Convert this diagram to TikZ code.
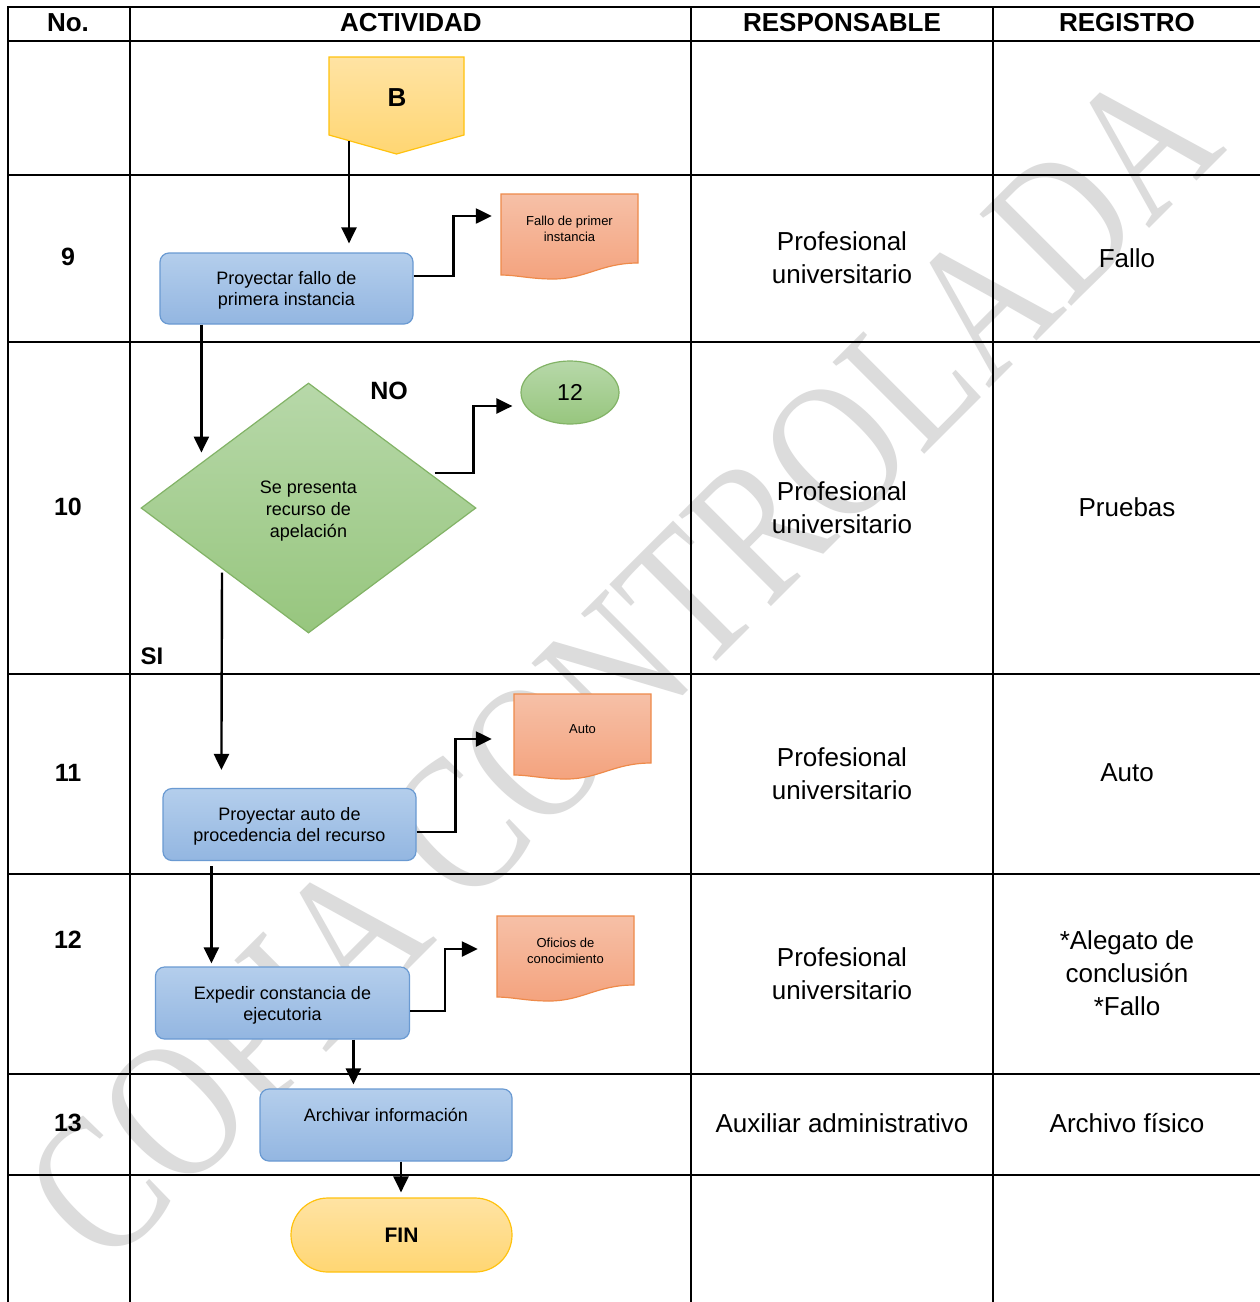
\documentclass[tikz,border=0pt]{standalone}
\usepackage{fontspec}
\setmainfont{Liberation Sans}
\newfontfamily\wmfont{Liberation Serif}
\usetikzlibrary{shapes.geometric,arrows.meta,calc}

\definecolor{bluetop}{HTML}{B4CEEC}
\definecolor{bluebot}{HTML}{93B6E1}
\definecolor{bluedraw}{HTML}{6A9AD2}
\definecolor{yeltop}{HTML}{FFE3A3}
\definecolor{yelbot}{HTML}{FFD673}
\definecolor{yeldraw}{HTML}{FFC20E}
\definecolor{grntop}{HTML}{B7D8A9}
\definecolor{grnbot}{HTML}{97C67E}
\definecolor{grndraw}{HTML}{82B366}
\definecolor{orgtop}{HTML}{F6C0A7}
\definecolor{orgbot}{HTML}{F4A37E}
\definecolor{orgdraw}{HTML}{EE8A4A}
\definecolor{wmgray}{HTML}{DCDCDC}

\newcommand\mydocshape[2]{%
  \begin{scope}[shift={(#1,#2)}]
    \shadedraw[docsty] (0,0) -- (137,0) -- (137,69)
      .. controls (100,69) and (85,85) .. (52,85)
      .. controls (30,85) and (15,81) .. (0,81) -- cycle;
  \end{scope}}

\begin{document}
\begin{tikzpicture}[x=1pt,y=-1pt,
  gridline/.style={line width=2.2pt, line cap=rect},
  arr/.style={line width=2.4pt, -{Triangle[length=16pt,width=15pt]}},
  proc/.style={rectangle, rounded corners=9pt, top color=bluetop, bottom color=bluebot,
    draw=bluedraw, line width=1.2pt, align=center, inner sep=0pt,
    font=\fontsize{18}{21}\selectfont},
  docsty/.style={top color=orgtop, bottom color=orgbot, draw=orgdraw, line width=1.2pt},
  doctext/.style={rectangle, minimum width=137pt, minimum height=70pt, inner sep=0pt,
    align=center, font=\fontsize{13}{16}\selectfont},
  hdr/.style={font=\bfseries\fontsize{26}{30}\selectfont, inner sep=0pt},
  num/.style={font=\bfseries\fontsize{25}{30}\selectfont, inner sep=0pt},
  cell/.style={align=center, inner sep=0pt, font=\fontsize{26}{33}\selectfont},
  lbl/.style={font=\bfseries\fontsize{25}{30}\selectfont, inner sep=0pt}
]
\useasboundingbox (0,0) rectangle (1260,1302);
\fill[white] (0,0) rectangle (1260,1302);

% watermark
\node[rotate=45, xscale=0.79, text=wmgray, font=\wmfont\fontsize{198}{198}\selectfont,
  inner sep=0pt] (wm) at (622,665) {COPIA CONTROLADA};

% table
\foreach \yy in {7,41,175,342,674,874,1074,1175}
  \draw[gridline] (8,\yy) -- (1260,\yy);
\foreach \xx in {8,130,691,993}
  \draw[gridline] (\xx,7) -- (\xx,1302);

% headers
\node[hdr] (h1) at (68,23) {No.};
\node[hdr] (h2) at (411,23) {ACTIVIDAD};
\node[hdr] (h3) at (842,23) {RESPONSABLE};
\node[hdr] (h4) at (1127,23) {REGISTRO};

% numbers
\node[num] (n9) at (68,257) {9};
\node[num] (n10) at (68,507) {10};
\node[num] (n11) at (68,773) {11};
\node[num] (n12) at (68,940) {12};
\node[num] (n13) at (68,1123) {13};

% responsable
\node[cell] (r9) at (842,257.5) {Profesional\\universitario};
\node[cell] (r10) at (842,507.5) {Profesional\\universitario};
\node[cell] (r11) at (842,773.5) {Profesional\\universitario};
\node[cell] (r12) at (842,973.5) {Profesional\\universitario};
\node[cell] (r13) at (842,1123) {Auxiliar administrativo};

% registro
\node[cell] (g9) at (1127,258) {Fallo};
\node[cell] (g10) at (1127,507) {Pruebas};
\node[cell] (g11) at (1127,773) {Auto};
\node[cell] (g12) at (1127,973) {*Alegato de\\conclusión\\*Fallo};
\node[cell] (g13) at (1127,1123) {Archivo físico};

% B off-page connector
\shadedraw[top color=yeltop, bottom color=yelbot, draw=yeldraw, line width=1.2pt]
  (329,57) -- (464,57) -- (464,135) -- (396.5,154) -- (329,135) -- cycle;
\node[font=\bfseries\fontsize{26}{30}\selectfont, inner sep=0pt] (B) at (397,98) {B};
\coordinate (Bb) at (349,141);

% process boxes
\node[proc, minimum width=253pt, minimum height=71pt] (b1) at (286.5,288.5) {};
\node[proc, minimum width=253pt, minimum height=72pt] (b2) at (289.5,824.5) {};
\node[proc, minimum width=254pt, minimum height=72pt] (b3) at (282.5,1003) {};
\node[proc, minimum width=252pt, minimum height=72pt] (b4) at (386,1125) {};
\begin{scope}[every node/.style={align=center, inner sep=0pt, font=\fontsize{18}{21}\selectfont}]
\node (b1t) at (286.5,290.5) {Proyectar fallo de\\primera instancia};
\node (b2t) at (289.5,826.5) {Proyectar auto de\\procedencia del recurso};
\node (b3t) at (282.5,1005) {Expedir constancia de\\ejecutoria};
\node (b4t) at (386,1115) {Archivar información};
\end{scope}

% decision
\node[diamond, aspect=1.34, minimum width=335pt, minimum height=250pt, inner sep=0pt,
  top color=grntop, bottom color=grnbot, draw=grndraw, line width=1.2pt] (dia) at (308.5,508) {};
\node[align=center, inner sep=0pt, font=\fontsize{18}{22}\selectfont] (diat) at (308.5,511)
  {Se presenta\\recurso de\\apelación};

% connector 12
\node[ellipse, minimum width=98pt, minimum height=63pt, inner sep=0pt,
  top color=grntop, bottom color=grnbot, draw=grndraw, line width=1.2pt,
  font=\fontsize{23}{26}\selectfont] (e12) at (570,392.5) {12};

% documents
\mydocshape{501}{194}
\node[doctext] (d1) at (569.5,229) {Fallo de primer\\instancia};
\mydocshape{514}{694}
\node[doctext] (d2) at (582.5,729) {Auto};
\mydocshape{497}{916}
\node[doctext] (d3) at (565.5,951) {Oficios de\\conocimiento};

% FIN
\node[rectangle, rounded corners=37pt, minimum width=221pt, minimum height=74pt,
  top color=yeltop, bottom color=yelbot, draw=yeldraw, line width=1.2pt,
  font=\bfseries\fontsize{21}{25}\selectfont, inner sep=0pt] (fin) at (401.5,1235) {FIN};

% labels
\node[lbl] (no) at (389,391) {NO};
\node[lbl, font=\bfseries\fontsize{24}{28}\selectfont] (si) at (152,656) {SI};

% connectors
\draw[arr] (Bb) -- ($(Bb |- b1.north)+(0,-9)$);
\draw[arr] ($(b1.east)+(0,-12.5)$) -- ++(40,0) |- ($(d1.west)+(-9,-13)$);
\draw[arr] ($(b1.south west)+(42,0)$) -- ++(0,128);
\draw[arr] ($(dia.east)+(-42,-35)$) -- ++(39,0) |- ($(e12.west)+(-8,13.5)$);
\draw[arr] ($(dia.south)+(-86.5,-61)$) -- ($(b2.north west)+(59,-18)$);
\draw[arr] ($(b2.east)+(0,7.5)$) -- ++(39,0) |- ($(d2.west)+(-22,10)$);
\draw[arr] ($(b2.south west)+(49,5)$) -- ($(b3.north west)+(56.5,-3)$);
\draw[arr] ($(b3.east)+(0,8)$) -- ++(35,0) |- ($(d3.west)+(-19,-2)$);
\draw[arr] ($(b3.south west)+(198.5,0)$) -- ($(b4.north west)+(94,-4)$);
\draw[arr] ($(b4.south)+(15,0)$) -- ($(fin.north)+(-0.5,-5)$);
\end{tikzpicture}
\end{document}
